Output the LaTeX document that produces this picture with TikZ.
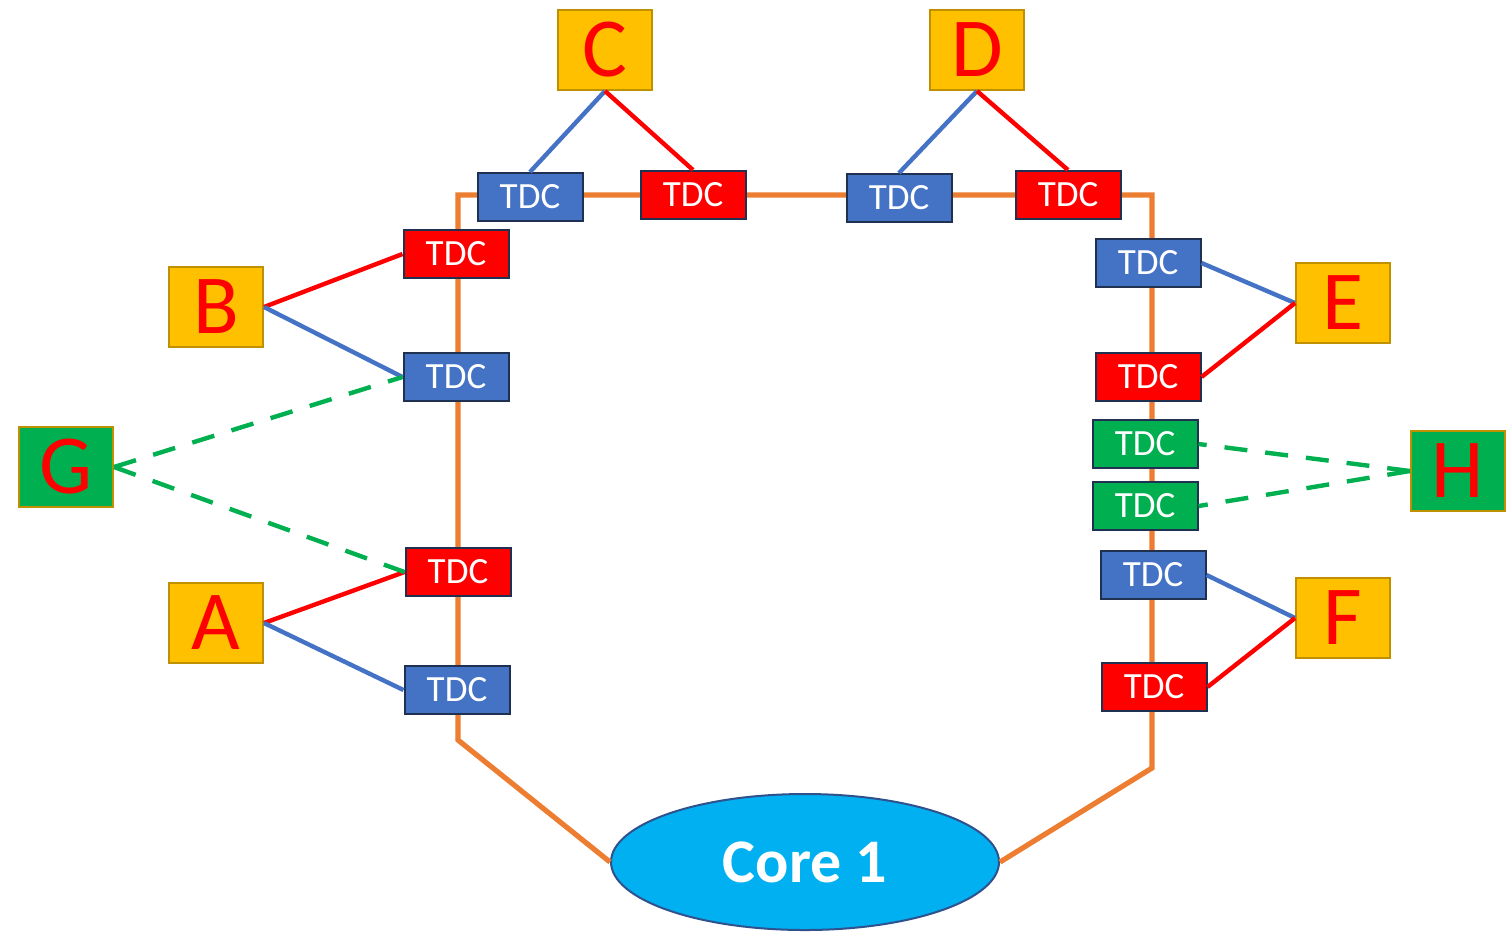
\documentclass[tikz,border=0pt]{standalone}
\usepackage{fontspec}
\setmainfont{Carlito}
\usetikzlibrary{shapes.geometric}
\definecolor{tdcblue}{HTML}{4472C4}
\definecolor{tdcred}{HTML}{FF0000}
\definecolor{tdcgreen}{HTML}{00B050}
\definecolor{tdcedge}{HTML}{1F3050}
\definecolor{portgold}{HTML}{FFC000}
\definecolor{portedge}{HTML}{BF9000}
\definecolor{ringorange}{HTML}{ED7D31}
\definecolor{corecyan}{HTML}{00B0F0}
\definecolor{coreedge}{HTML}{2F528F}
\begin{document}
\begin{tikzpicture}[x=0.5pt,y=-0.5pt,
  tdc/.style={draw=tdcedge, line width=1pt, minimum width=52.5pt, minimum height=24pt,
    inner sep=0pt, text=white, font=\fontsize{18.5}{18.5}\selectfont},
  tdcB/.style={tdc, fill=tdcblue},
  tdcR/.style={tdc, fill=tdcred},
  tdcG/.style={tdc, fill=tdcgreen},
  port/.style={draw=portedge, line width=1pt, fill=portgold, minimum width=47pt,
    minimum height=40pt, inner sep=0pt, text=tdcred, font=\fontsize{42}{42}\selectfont},
  portG/.style={port, fill=tdcgreen},
  ring/.style={draw=ringorange, line width=2.6pt},
  linkB/.style={draw=tdcblue, line width=2.2pt},
  linkR/.style={draw=tdcred, line width=2.2pt},
  linkG/.style={draw=tdcgreen, line width=2.2pt, dash pattern=on 11.5pt off 9pt},
]
\useasboundingbox (0,0) rectangle (1507,933);

% ring corners
\coordinate (lb) at (458,740);
\coordinate (lt) at (458,195);
\coordinate (rt) at (1152,195);
\coordinate (rb) at (1152,768);

% core
\node[ellipse, draw=coreedge, line width=1pt, fill=corecyan, minimum width=194pt,
  minimum height=68pt, inner sep=0pt, text=white,
  font=\fontsize{31}{31}\selectfont\bfseries] (core) at (805,862) {Core 1};

% ring path
\draw[ring] (core.west) -- (lb) -- (lt) -- (rt) -- (rb) -- (core.east);

% TDC blocks
\node[tdcB] (c1) at (530,197) {TDC};
\node[tdcR] (c2) at (693,195) {TDC};
\node[tdcB] (d1) at (899,198) {TDC};
\node[tdcR] (d2) at (1068,195) {TDC};
\node[tdcR] (b1) at (456,254) {TDC};
\node[tdcB] (b2) at (456,377) {TDC};
\node[tdcR] (a1) at (458,572) {TDC};
\node[tdcB] (a2) at (457,690) {TDC};
\node[tdcB] (e1) at (1148,263) {TDC};
\node[tdcR] (e2) at (1148,377) {TDC};
\node[tdcG] (h1) at (1145,444) {TDC};
\node[tdcG] (h2) at (1145,506) {TDC};
\node[tdcB] (f1) at (1153,575) {TDC};
\node[tdcR] (f2) at (1154,687) {TDC};

% ports
\node[port] (C) at (605,50) {C};
\node[port] (D) at (977,50) {D};
\node[port] (B) at (216,307) {B};
\node[port] (A) at (216,623) {A};
\node[portG] (G) at (66,467) {G};
\node[port] (E) at (1343,303) {E};
\node[port] (F) at (1343,618) {F};
\node[portG] (H) at (1458,471) {H};

% links
\draw[linkB] (C.south) -- (c1.north);
\draw[linkR] (C.south) -- (c2.north);
\draw[linkB] (D.south) -- (d1.north);
\draw[linkR] (D.south) -- (d2.north);
\draw[linkR] (B.east) -- (b1.west);
\draw[linkB] (B.east) -- (b2.west);
\draw[linkR] (A.east) -- (a1.west);
\draw[linkB] (A.east) -- (a2.west);
\draw[linkG] (G.east) -- (b2.west);
\draw[linkG] (G.east) -- (a1.west);
\draw[linkB] (E.west) -- (e1.east);
\draw[linkR] (E.west) -- (e2.east);
\draw[linkB] (F.west) -- (f1.east);
\draw[linkR] (F.west) -- (f2.east);
\draw[linkG] (H.west) -- (h1.east);
\draw[linkG] (H.west) -- (h2.east);
\end{tikzpicture}
\end{document}
